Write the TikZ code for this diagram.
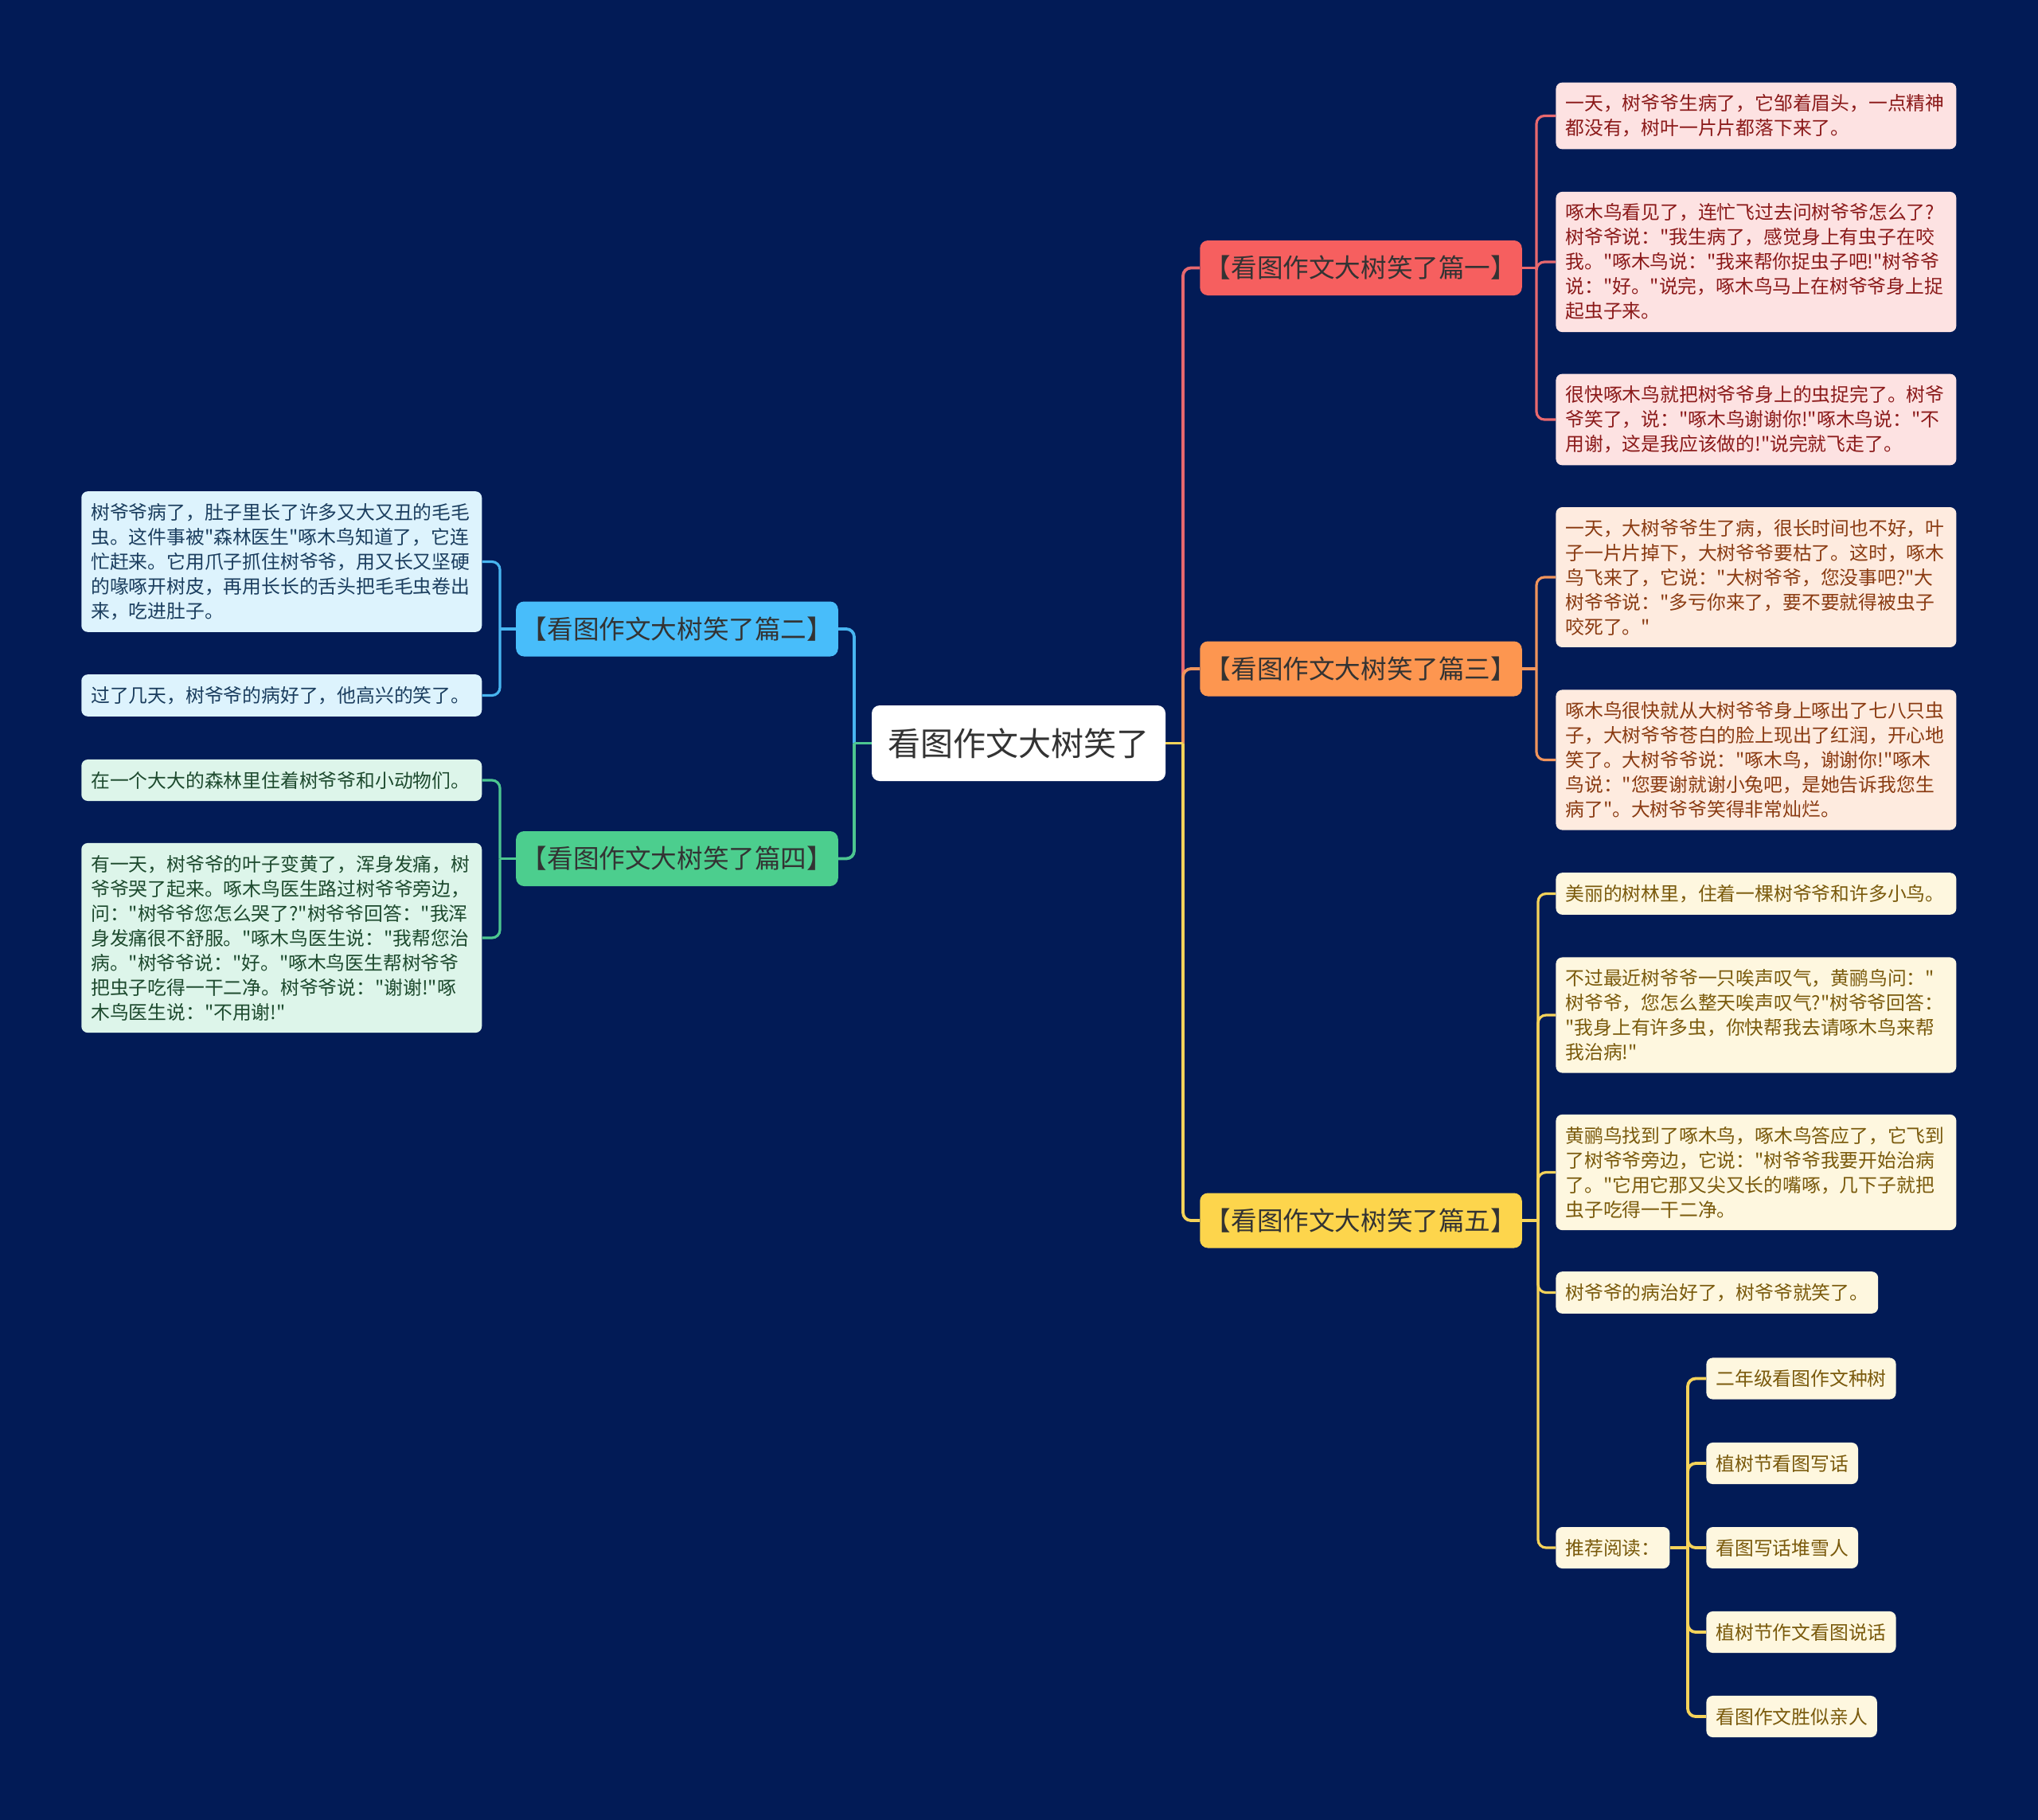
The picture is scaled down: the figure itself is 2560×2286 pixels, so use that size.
\documentclass[tikz,border=0pt]{standalone}
\usepackage{fontspec}
\setmainfont{Noto Sans CJK SC}[Ligatures=TeXOff]
\usepackage{tikz}
\usetikzlibrary{positioning}

\definecolor{bg}{HTML}{021B56}
\definecolor{darktext}{HTML}{333333}
\definecolor{redtopic}{HTML}{F65F5F}
\definecolor{orangetopic}{HTML}{FD9650}
\definecolor{yellowtopic}{HTML}{FDD54C}
\definecolor{bluetopic}{HTML}{48BDFA}
\definecolor{greentopic}{HTML}{4CCE8E}
\definecolor{redline}{HTML}{E8686E}
\definecolor{orangeline}{HTML}{F0945C}
\definecolor{yellowline}{HTML}{F5D35A}
\definecolor{blueline}{HTML}{48B5F0}
\definecolor{greenline}{HTML}{4CC690}
\definecolor{pinkfill}{HTML}{FDE2E2}
\definecolor{peachfill}{HTML}{FEEBDF}
\definecolor{creamfill}{HTML}{FEF7DF}
\definecolor{skyfill}{HTML}{DDF3FD}
\definecolor{mintfill}{HTML}{DDF5EA}
\definecolor{redtext}{HTML}{8B1A1A}
\definecolor{browntext}{HTML}{8A3B12}
\definecolor{olivetext}{HTML}{7A5A0C}
\definecolor{navytext}{HTML}{1A3D5E}
\definecolor{pinetext}{HTML}{1D4A2E}

\begin{document}
\begin{tikzpicture}[x=0.5pt, y=-0.5pt,
    rootbox/.style={fill=white, text=darktext, rounded corners=5pt,
      minimum width=184.5pt, minimum height=47.5pt,
      font=\fontsize{20.5}{24}\selectfont},
    topic/.style={fill=#1, text=darktext, rounded corners=5pt,
      minimum width=199.5pt, minimum height=34.5pt,
      font=\fontsize{16.3}{19}\selectfont},
    leaf/.style 2 args={fill=#1, text=#2, rounded corners=4pt,
      inner xsep=6pt, inner ysep=7.5pt, align=left,
      font=\fontsize{11.9}{15.5}\selectfont},
    wide/.style={text width=239.5pt},
    link/.style={draw=#1, line width=1.9pt, rounded corners=5pt},
    leaflink/.style={draw=#1, line width=1.6pt, rounded corners=5pt}]

  \fill[bg] (0,0) rectangle (2560,2286);
  \useasboundingbox (0,0) rectangle (2560,2286);

  % centre and main topics
  \node[rootbox] (root) at (1279.5,933.5) {看图作文大树笑了};
  \node[topic=redtopic] (b1) at (1709.5,336.5) {【看图作文大树笑了篇一】};
  \node[topic=orangetopic] (b3) at (1709.5,840) {【看图作文大树笑了篇三】};
  \node[topic=yellowtopic] (b5) at (1709.5,1533) {【看图作文大树笑了篇五】};
  \node[topic=bluetopic] (b2) at (850.5,790) {【看图作文大树笑了篇二】};
  \node[topic=greentopic] (b4) at (850.5,1078.5) {【看图作文大树笑了篇四】};

  \coordinate (rbus) at (1486,933.5);
  \coordinate (lbus) at (1073,933.5);
  \draw[link=redline] (rbus) |- (b1.west);
  \draw[link=orangeline] (rbus) |- (b3.west);
  \draw[link=yellowline] (rbus) |- (b5.west);
  \draw[link=yellowline] (root.east) -- (rbus);
  \draw[link=blueline] (lbus) |- (b2.east);
  \draw[link=greenline] (lbus) |- (b4.east);
  \draw[link=greenline] (root.west) -- (lbus);

  % topic one
  \node[leaf={pinkfill}{redtext}, wide, anchor=west] (l1a) at (1954,145.5)
    {一天，树爷爷生病了，它邹着眉头，一点精神\\都没有，树叶一片片都落下来了。};
  \node[leaf={pinkfill}{redtext}, wide, anchor=west] (l1b) at (1954,329)
    {啄木鸟看见了，连忙飞过去问树爷爷怎么了?\\树爷爷说："我生病了，感觉身上有虫子在咬\\我。"啄木鸟说："我来帮你捉虫子吧!"树爷爷\\说："好。"说完，啄木鸟马上在树爷爷身上捉\\起虫子来。};
  \node[leaf={pinkfill}{redtext}, wide, anchor=west] (l1c) at (1954,527)
    {很快啄木鸟就把树爷爷身上的虫捉完了。树爷\\爷笑了，说："啄木鸟谢谢你!"啄木鸟说："不\\用谢，这是我应该做的!"说完就飞走了。};
  \coordinate (bus1) at (1930,336.5);
  \draw[leaflink=redline] (b1.east) -- (bus1);
  \foreach \n in {l1a,l1b,l1c}
    \draw[leaflink=redline] (bus1) |- (\n.west);

  % topic three
  \node[leaf={peachfill}{browntext}, wide, anchor=west] (l3a) at (1954,725)
    {一天，大树爷爷生了病，很长时间也不好，叶\\子一片片掉下，大树爷爷要枯了。这时，啄木\\鸟飞来了，它说："大树爷爷，您没事吧?"大\\树爷爷说："多亏你来了，要不要就得被虫子\\咬死了。"};
  \node[leaf={peachfill}{browntext}, wide, anchor=west] (l3b) at (1954,954.5)
    {啄木鸟很快就从大树爷爷身上啄出了七八只虫\\子，大树爷爷苍白的脸上现出了红润，开心地\\笑了。大树爷爷说："啄木鸟，谢谢你!"啄木\\鸟说："您要谢就谢小兔吧，是她告诉我您生\\病了"。大树爷爷笑得非常灿烂。};
  \coordinate (bus3) at (1930,840);
  \draw[leaflink=orangeline] (b3.east) -- (bus3);
  \foreach \n in {l3a,l3b}
    \draw[leaflink=orangeline] (bus3) |- (\n.west);

  % topic five
  \node[leaf={creamfill}{olivetext}, wide, anchor=west] (l5a) at (1954,1122.5)
    {美丽的树林里，住着一棵树爷爷和许多小鸟。};
  \node[leaf={creamfill}{olivetext}, wide, anchor=west] (l5b) at (1954,1275)
    {不过最近树爷爷一只唉声叹气，黄鹂鸟问："\\树爷爷，您怎么整天唉声叹气?"树爷爷回答：\\"我身上有许多虫，你快帮我去请啄木鸟来帮\\我治病!"};
  \node[leaf={creamfill}{olivetext}, wide, anchor=west] (l5c) at (1954,1472.5)
    {黄鹂鸟找到了啄木鸟，啄木鸟答应了，它飞到\\了树爷爷旁边，它说："树爷爷我要开始治病\\了。"它用它那又尖又长的嘴啄，几下子就把\\虫子吃得一干二净。};
  \node[leaf={creamfill}{olivetext}, anchor=west] (l5d) at (1954,1623.5)
    {树爷爷的病治好了，树爷爷就笑了。};
  \node[leaf={creamfill}{olivetext}, anchor=west] (l5e) at (1954,1944)
    {推荐阅读：};
  \coordinate (bus5) at (1932,1533);
  \draw[leaflink=yellowline] (b5.east) -- (bus5);
  \foreach \n in {l5a,l5b,l5c,l5d,l5e}
    \draw[leaflink=yellowline] (bus5) |- (\n.west);

  % recommended reading
  \node[leaf={creamfill}{olivetext}, anchor=west] (s1) at (2143,1731.5) {二年级看图作文种树};
  \node[leaf={creamfill}{olivetext}, anchor=west] (s2) at (2143,1838) {植树节看图写话};
  \node[leaf={creamfill}{olivetext}, anchor=west] (s3) at (2143,1944) {看图写话堆雪人};
  \node[leaf={creamfill}{olivetext}, anchor=west] (s4) at (2143,2050) {植树节作文看图说话};
  \node[leaf={creamfill}{olivetext}, anchor=west] (s5) at (2143,2156) {看图作文胜似亲人};
  \coordinate (bus6) at (2120,1944);
  \draw[link=yellowline] (l5e.east) -- (bus6);
  \foreach \n in {s1,s2,s3,s4,s5}
    \draw[link=yellowline] (bus6) |- (\n.west);

  % topic two
  \node[leaf={skyfill}{navytext}, wide] (l2a) at (353.75,705.5)
    {树爷爷病了，肚子里长了许多又大又丑的毛毛\\虫。这件事被"森林医生"啄木鸟知道了，它连\\忙赶来。它用爪子抓住树爷爷，用又长又坚硬\\的喙啄开树皮，再用长长的舌头把毛毛虫卷出\\来，吃进肚子。};
  \node[leaf={skyfill}{navytext}, wide] (l2b) at (353.75,873.5)
    {过了几天，树爷爷的病好了，他高兴的笑了。};
  \coordinate (bus2) at (628,790);
  \draw[leaflink=blueline] (b2.west) -- (bus2);
  \foreach \n in {l2a,l2b}
    \draw[leaflink=blueline] (bus2) |- (\n.east);

  % topic four
  \node[leaf={mintfill}{pinetext}, wide] (l4a) at (353.75,980)
    {在一个大大的森林里住着树爷爷和小动物们。};
  \node[leaf={mintfill}{pinetext}, wide] (l4b) at (353.75,1178)
    {有一天，树爷爷的叶子变黄了，浑身发痛，树\\爷爷哭了起来。啄木鸟医生路过树爷爷旁边，\\问："树爷爷您怎么哭了?"树爷爷回答："我浑\\身发痛很不舒服。"啄木鸟医生说："我帮您治\\病。"树爷爷说："好。"啄木鸟医生帮树爷爷\\把虫子吃得一干二净。树爷爷说："谢谢!"啄\\木鸟医生说："不用谢!"};
  \coordinate (bus4) at (628,1078.5);
  \draw[leaflink=greenline] (b4.west) -- (bus4);
  \foreach \n in {l4a,l4b}
    \draw[leaflink=greenline] (bus4) |- (\n.east);
\end{tikzpicture}
\end{document}
